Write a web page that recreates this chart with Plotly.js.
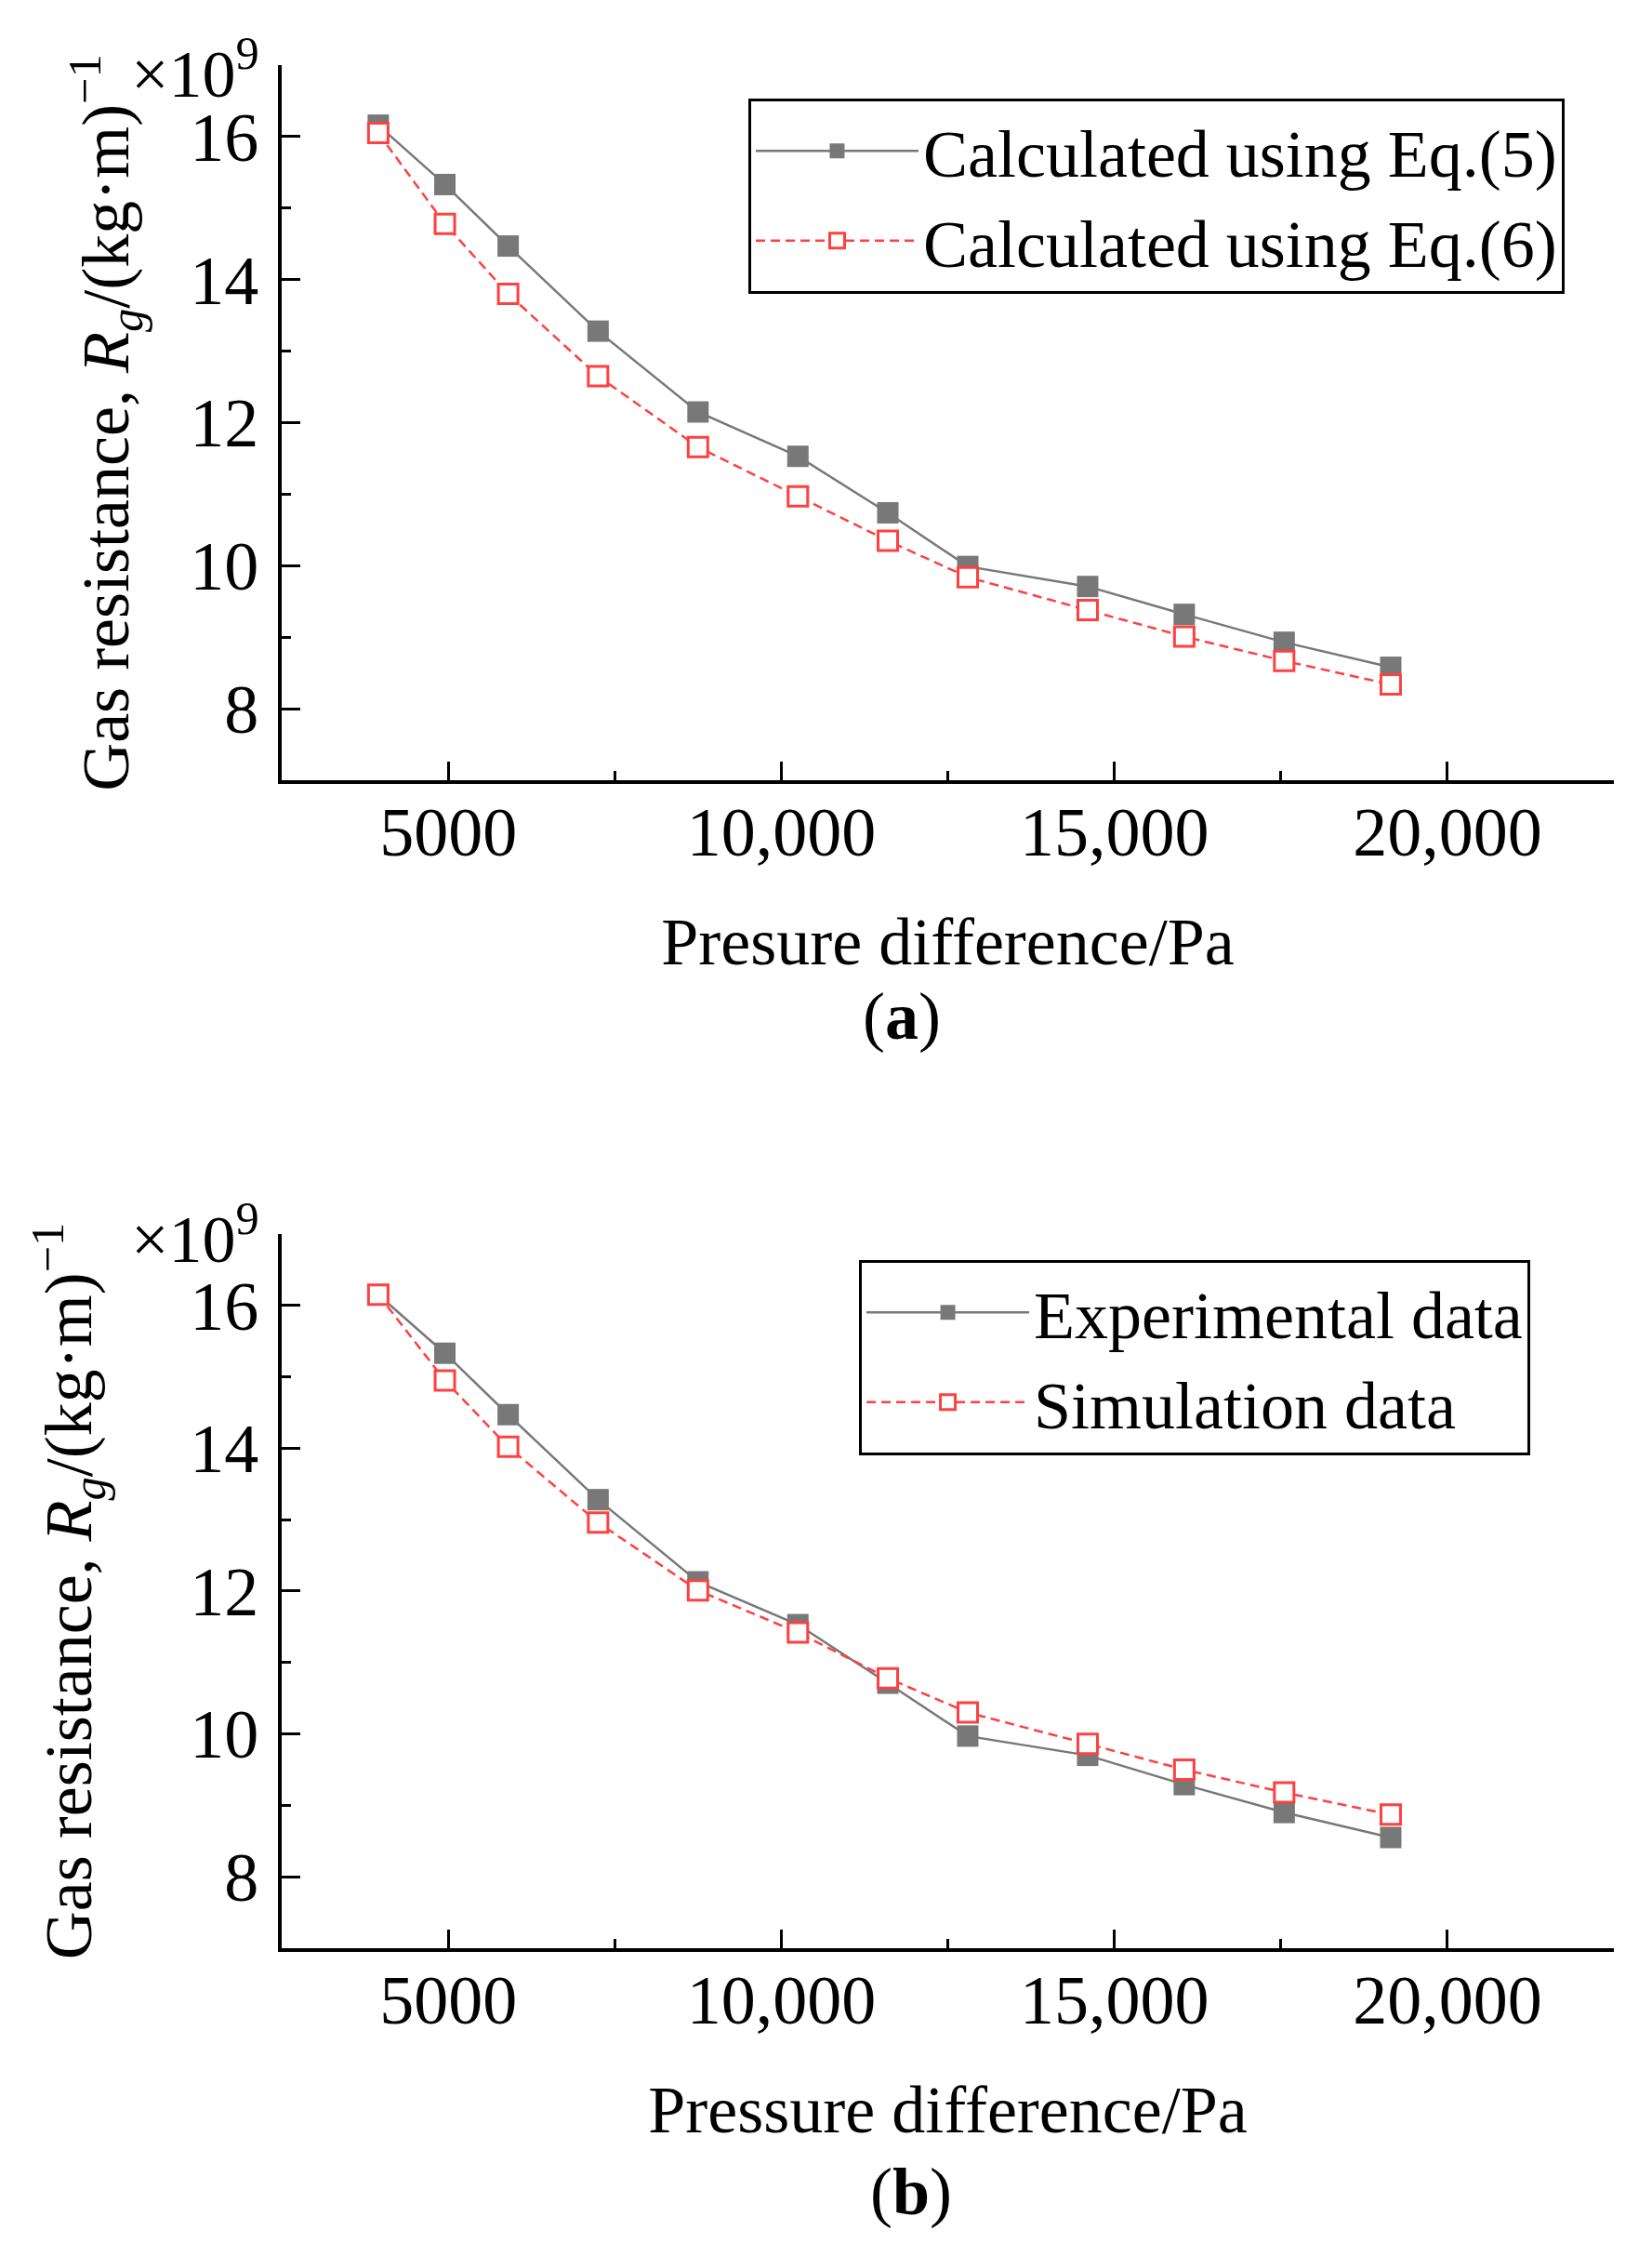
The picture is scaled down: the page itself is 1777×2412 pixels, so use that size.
<!DOCTYPE html>
<html>
<head>
<meta charset="utf-8">
<script src="https://cdn.plot.ly/plotly-3.0.1.min.js"></script>
<style>html,body{margin:0;padding:0;background:#fff;} #chart{width:1777px;height:2412px;}</style>
</head>
<body>
<div id="chart"></div>
<script>
// Pressure difference (Pa)
var pressure = [3950, 4950, 5900, 7250, 8750, 10250, 11600, 12800, 14600, 16050, 17550, 19150];
// Panel (a): gas resistance, x10^9 (kg·m)^-1
var eq5 = [16.16, 15.33, 14.47, 13.28, 12.15, 11.53, 10.74, 9.99, 9.71, 9.32, 8.93, 8.58];
var eq6 = [16.05, 14.78, 13.80, 12.65, 11.66, 10.97, 10.35, 9.84, 9.38, 9.01, 8.67, 8.34];
// Panel (b)
var experimental = [16.15, 15.33, 14.47, 13.28, 12.13, 11.53, 10.71, 9.97, 9.70, 9.29, 8.90, 8.55];
var simulation = [16.15, 14.95, 14.02, 12.96, 12.01, 11.42, 10.78, 10.30, 9.86, 9.50, 9.18, 8.87];

var xTickVals = [5000, 10000, 15000, 20000];
var xTickText = ['5000', '10,000', '15,000', '20,000'];
var yTickVals = [8, 10, 12, 14, 16, 17];
var yTickText = ['8', '10', '12', '14', '16', ' '];

var FONT = 'Liberation Serif, Times New Roman, serif';
var GRAY = '#787878';
var RED = '#ff4040';

function grayTrace(y, name, xa, ya, lg) {
  return {x: pressure, y: y, name: name, type: 'scatter', mode: 'lines+markers',
    xaxis: xa, yaxis: ya, legend: lg,
    line: {color: GRAY, width: 2.5},
    marker: {symbol: 'square', size: 23, color: GRAY}};
}
function redTrace(y, name, xa, ya, lg) {
  return {x: pressure, y: y, name: name, type: 'scatter', mode: 'lines+markers',
    xaxis: xa, yaxis: ya, legend: lg,
    line: {color: RED, width: 2.5, dash: '10px,6px'},
    marker: {symbol: 'square', size: 21, color: '#ffffff', line: {color: RED, width: 3}}};
}

var data = [
  grayTrace(eq5, 'Calculated using Eq.(5)', 'x', 'y', 'legend'),
  redTrace(eq6, 'Calculated using Eq.(6)', 'x', 'y', 'legend'),
  grayTrace(experimental, 'Experimental data', 'x2', 'y2', 'legend2'),
  redTrace(simulation, 'Simulation data', 'x2', 'y2', 'legend2')
];

function xAxis(anchor, title, standoff) {
  return {anchor: anchor, range: [2500, 22500], tickmode: 'array', tickvals: xTickVals, ticktext: xTickText,
    ticks: 'inside', ticklen: 20, tickwidth: 3, tickcolor: '#000',
    minor: {tickmode: 'linear', tick0: 0, dtick: 2500, ticks: 'inside', ticklen: 10, tickwidth: 3, tickcolor: '#000'},
    showline: true, linewidth: 4, linecolor: '#000', mirror: false, showgrid: false, zeroline: false,
    tickfont: {family: FONT, size: 74, color: '#000'}, ticklabelstandoff: -12,
    title: {text: title, font: {family: FONT, size: 72, color: '#000'}, standoff: standoff},
    automargin: false};
}
function yAxis(anchor, domain, standoff) {
  return {anchor: anchor, domain: domain, range: [7, 17], tickmode: 'array', tickvals: yTickVals, ticktext: yTickText,
    ticks: 'inside', ticklen: 20, tickwidth: 3, tickcolor: '#000',
    minor: {tickmode: 'linear', tick0: 7, dtick: 1, ticks: 'inside', ticklen: 10, tickwidth: 3, tickcolor: '#000'},
    showline: true, linewidth: 4, linecolor: '#000', mirror: false, showgrid: false, zeroline: false,
    tickfont: {family: FONT, size: 74, color: '#000'}, ticklabelstandoff: 6,
    title: {text: 'Gas resistance, <i>R</i><sub><i>g</i></sub>/(kg·m)<sup>−1</sup>', font: {family: FONT, size: 72, color: '#000'}, standoff: standoff},
    automargin: false};
}

var legendBase = {xanchor: 'left', yanchor: 'top', bgcolor: '#fff', bordercolor: '#000', borderwidth: 3,
  font: {family: FONT, size: 72, color: '#000'}, itemwidth: 175, tracegroupgap: 0};

var layout = {
  width: 1777, height: 2412,
  margin: {l: 303, r: 41, t: 70, b: 317},
  paper_bgcolor: '#fff', plot_bgcolor: '#fff',
  showlegend: true,
  xaxis: xAxis('y', 'Presure difference/Pa', 53),
  yaxis: yAxis('x', [0.6202, 1], 43),
  xaxis2: xAxis('y2', 'Pressure difference/Pa', 53),
  yaxis2: yAxis('x2', [0, 0.3793], 83),
  legend: Object.assign({x: 0.3503, y: 0.9823}, legendBase),
  legend2: Object.assign({x: 0.4334, y: 0.3655}, legendBase),
  annotations: [
    {xref: 'paper', yref: 'paper', x: -0.0154, y: 0.998, xanchor: 'right', yanchor: 'middle', showarrow: false,
     text: '×10<sup>9</sup>', font: {family: FONT, size: 72, color: '#000'}},
    {xref: 'paper', yref: 'paper', x: -0.0154, y: 0.3788, xanchor: 'right', yanchor: 'middle', showarrow: false,
     text: '×10<sup>9</sup>', font: {family: FONT, size: 72, color: '#000'}},
    {xref: 'paper', yref: 'paper', x: 0.4655, y: 0.4948, xanchor: 'center', yanchor: 'middle', showarrow: false,
     text: '(<b>a</b>)', font: {family: FONT, size: 72, color: '#000'}},
    {xref: 'paper', yref: 'paper', x: 0.4724, y: -0.1294, xanchor: 'center', yanchor: 'middle', showarrow: false,
     text: '(<b>b</b>)', font: {family: FONT, size: 72, color: '#000'}}
  ]
};

Plotly.newPlot('chart', data, layout, {staticPlot: true});
</script>
</body>
</html>
